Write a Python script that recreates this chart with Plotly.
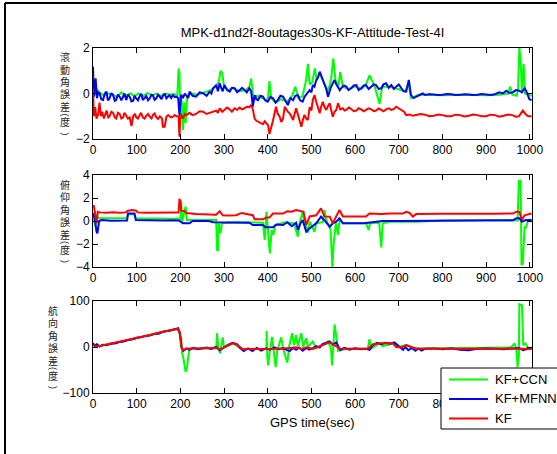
import plotly.graph_objects as go

# ---- roll error (deg): (time s, value) ----
roll_ccn = [(0,0.3),(3,-0.1),(8,0.2),(15,0.05),(25,-0.1),(35,0.0),(45,-0.05),(55,-0.15),(65,0.05),(75,-0.1),
            (85,0.0),(95,-0.1),(105,0.0),(115,-0.1),(125,0.02),(135,-0.08),(145,0.0),(155,-0.1),(165,0.0),(175,-0.05),
            (185,-0.02),(193,-0.1),(196,1.1),(198,0.9),(200,-1.0),(203,-0.3),(206,-1.6),(209,-0.4),(212,-1.3),(216,-0.1),
            (225,0.0),(240,-0.05),(255,0.05),(270,0.15),(280,0.3),(288,0.5),(292,1.0),(296,0.9),(300,0.3),(310,0.15),
            (320,0.25),(335,0.1),(350,0.15),(358,0.3),(362,0.65),(365,0.2),(368,-0.3),(375,-0.1),(390,-0.2),(400,-0.3),
            (404,0.55),(408,-0.2),(418,-0.4),(430,-0.25),(445,-0.35),(456,-0.1),(463,0.3),(470,-0.2),(480,-0.1),(488,0.6),
            (492,1.3),(496,0.4),(502,0.5),(508,1.1),(512,0.6),(519,0.9),(528,0.5),(538,0.1),(545,0.6),(550,1.55),
            (555,0.6),(562,0.3),(566,0.95),(572,0.3),(585,0.2),(600,0.3),(615,0.2),(625,0.4),(633,0.8),(645,0.3),
            (656,-0.45),(662,0.3),(680,0.3),(700,0.2),(715,0.1),(722,0.45),(728,-0.2),(735,-0.15),(745,-0.05),(770,-0.05),
            (800,-0.08),(850,-0.05),(900,-0.08),(930,-0.05),(950,0.0),(955,0.3),(960,-0.05),(970,-0.1),(973,0.2),(976,2.0),
            (979,1.5),(982,0.1),(986,1.3),(989,0.0),(995,-0.05),(1004,-0.1)]
roll_mfnn = [(0,1.18),(2,-0.14),(6,0.67),(9,-0.21),(12,0.05),(15,0.01),(19,-0.25),(23,-0.29),(27,0.0),(31,0.08),
             (34,-0.3),(38,-0.21),(42,0.02),(46,-0.07),(50,-0.32),(53,-0.29),(57,-0.05),(61,-0.14),(65,-0.3),(69,-0.14),
             (72,0.0),(76,-0.29),(80,-0.05),(84,-0.14),(88,-0.35),(92,-0.32),(95,-0.1),(99,-0.21),(103,-0.3),(107,-0.11),
             (111,-0.02),(114,-0.29),(118,-0.18),(122,-0.11),(126,-0.3),(130,-0.21),(134,-0.05),(137,-0.07),(141,-0.28),(145,-0.21),
             (149,-0.05),(153,-0.14),(157,-0.25),(160,-0.10),(164,0.0),(168,-0.21),(172,-0.12),(175,-0.07),(179,-0.2),(183,-0.07),
             (187,-0.15),(191,-0.14),(195,-0.2),(198,-0.95),(202,-0.05),(206,-0.20),(210,0.0),(214,-0.10),(218,-0.2),(221,0.08),
             (228,-0.1),(236,-0.14),(244,0.05),(252,0.01),(260,-0.1),(267,0.08),(271,0.0),(275,0.23),(282,0.37),(286,0.1),
             (290,0.45),(294,0.23),(297,0.1),(301,0.37),(307,0.15),(313,0.08),(318,0.25),(324,0.23),(330,0.05),(336,0.15),
             (341,0.25),(347,0.15),(352,0.05),(358,0.23),(362,0.1),(366,-0.58),(370,-0.07),(374,-0.25),(378,-0.29),(383,-0.1),
             (389,-0.14),(394,-0.3),(400,-0.36),(406,-0.15),(412,-0.21),(418,-0.4),(423,-0.29),(429,-0.1),(435,-0.14),(440,-0.3),
             (446,-0.51),(452,-0.2),(458,-0.29),(463,-0.1),(469,-0.07),(474,-0.3),(480,-0.36),(484,-0.15),(488,-0.07),(492,0.05),
             (496,0.15),(500,0.05),(503,0.37),(507,0.3),(511,0.59),(515,0.7),(519,0.96),(522,0.81),(526,0.6),(530,0.45),
             (534,0.2),(538,-0.14),(541,0.1),(545,0.30),(549,0.45),(553,0.59),(557,0.4),(561,0.30),(565,0.15),(568,0.23),
             (574,0.35),(580,0.30),(585,0.15),(591,0.23),(597,0.35),(603,0.37),(608,0.15),(614,0.23),(620,0.35),(625,0.37),
             (631,0.2),(637,0.30),(643,0.4),(648,0.37),(654,0.2),(660,0.23),(665,0.4),(671,0.45),(677,0.25),(683,0.37),
             (689,0.2),(694,0.30),(700,0.4),(706,0.23),(711,0.1),(717,0.08),(723,0.60),(728,-0.07),(734,-0.2),(740,-0.14),
             (748,-0.05),(755,0.0),(760,-0.06),(770,-0.03),(780,-0.04),(790,-0.07),(800,-0.05),(810,-0.02),(820,-0.03),(830,-0.07),
             (840,-0.06),(850,-0.03),(860,-0.04),(870,-0.07),(880,-0.05),(890,-0.02),(900,-0.04),(910,-0.06),(920,-0.03),(930,0.05),
             (938,0.0),(946,0.12),(953,0.02),(961,0.05),(968,0.15),(976,0.12),(982,0.05),(988,0.23),(992,0.1),(995,-0.1),
             (999,-0.25),(1004,-0.29)]
roll_kf = [(0,0.2),(2,-1.0),(5,-0.6),(8,-1.1),(12,-0.9),(15,-0.4),(18,-1.0),(21,-0.8),(25,-1.1),(28,-0.95),
           (31,-0.75),(35,-1.05),(38,-1.0),(42,-0.8),(46,-0.85),(50,-1.05),(53,-1.1),(57,-0.85),(61,-0.9),(65,-1.1),
           (69,-1.05),(72,-0.85),(76,-0.95),(80,-1.1),(84,-1.05),(88,-1.43),(92,-1.0),(96,-0.9),(99,-1.05),(103,-1.1),
           (107,-0.95),(110,-0.85),(114,-1.05),(118,-1.1),(122,-0.98),(126,-0.9),(130,-1.02),(134,-1.1),(137,-0.95),(141,-0.88),
           (145,-1.05),(149,-1.12),(153,-1.0),(158,-1.1),(160,-1.46),(164,-1.46),(168,-1.02),(172,-0.95),(175,-1.0),(179,-1.05),
           (183,-1.02),(187,-0.95),(191,-1.0),(196,-1.0),(198,-1.9),(200,-1.0),(202,-0.95),(206,-1.1),(210,-0.9),(214,-0.95),
           (221,-0.85),(228,-0.95),(236,-0.9),(244,-0.78),(252,-0.8),(260,-0.9),(267,-0.85),(275,-0.8),(282,-0.75),(286,-0.85),
           (290,-0.65),(296,-0.8),(301,-0.72),(307,-0.62),(313,-0.7),(318,-0.8),(324,-0.65),(330,-0.72),(336,-0.62),(341,-0.7),
           (347,-0.65),(352,-0.58),(358,-0.6),(362,-0.5),(366,-0.7),(370,-1.1),(374,-1.2),(378,-1.25),(383,-1.3),(389,-1.35),
           (393,-1.22),(397,-1.3),(401,-1.4),(404,-1.78),(408,-1.5),(412,-1.2),(419,-0.58),(423,-0.9),(427,-1.0),(431,-1.25),
           (435,-1.1),(439,-0.58),(446,-0.8),(450,-0.87),(454,-1.0),(458,-1.17),(465,-0.65),(469,-0.9),(473,-1.1),(477,-1.46),
           (480,-1.2),(484,-0.94),(488,-1.1),(492,-1.16),(496,-0.6),(500,-0.75),(503,-0.3),(507,-0.07),(511,-0.36),(515,-0.6),
           (519,-0.87),(522,-0.6),(526,-0.36),(530,-0.6),(534,-0.72),(538,-0.55),(542,-0.43),(545,-0.7),(549,-1.02),(553,-0.8),
           (557,-0.72),(561,-0.43),(566,-0.7),(572,-0.65),(576,-0.75),(580,-0.72),(586,-0.62),(591,-0.68),(597,-0.78),(603,-0.75),
           (608,-0.65),(614,-0.7),(620,-0.78),(625,-0.72),(631,-0.65),(637,-0.7),(643,-0.78),(648,-0.75),(654,-0.66),(660,-0.72),
           (665,-0.78),(671,-0.7),(677,-0.65),(683,-0.72),(689,-0.68),(694,-0.58),(700,-0.65),(706,-0.7),(712,-0.8),(717,-0.95),
           (725,-0.92),(732,-0.98),(740,-0.95),(750,-0.9),(760,-0.93),(770,-1.0),(780,-0.98),(790,-0.92),(800,-0.95),(810,-1.0),
           (820,-1.0),(830,-0.93),(840,-0.95),(850,-1.01),(860,-0.98),(870,-0.92),(880,-0.95),(890,-1.0),(900,-1.0),(910,-0.93),
           (920,-0.95),(930,-1.02),(940,-0.98),(950,-0.92),(960,-0.95),(968,-1.02),(975,-1.0),(984,-0.75),(990,-0.9),(996,-1.0),
           (1004,-1.0)]

# ---- pitch error (deg) ----
pitch_ccn = [(0,0.67),(5,-0.49),(8,0.38),(15,0.23),(40,0.25),(78,0.23),(80,0.58),(95,0.58),(98,0.23),(140,0.22),
             (196,0.2),(200,0.1),(202,1.7),(204,-0.06),(212,1.25),(215,0.09),(240,0.1),(282,0.09),(284,-2.52),(286,-2.6),
             (288,-0.2),(292,-1.07),(295,-0.2),(330,-0.1),(389,-0.15),(393,-1.65),(397,0.81),(400,-0.49),(405,-2.81),(409,-0.78),
             (413,-1.2),(417,-0.35),(440,-0.1),(460,-0.2),(469,-1.36),(473,-0.2),(480,0.81),(484,-0.06),(492,-1.01),(496,-0.06),
             (507,-0.93),(511,-0.2),(526,-0.1),(530,0.96),(534,0.09),(544,-0.78),(548,-4.1),(551,-1.94),(556,-0.2),(561,-1.2),
             (565,0.23),(572,-0.2),(625,-0.2),(631,-0.8),(634,-0.2),(655,-0.15),(660,-2.3),(663,-0.2),(680,-0.06),(740,-0.06),
             (800,0.05),(900,0.06),(972,0.05),(975,3.5),(979,3.5),(981,-3.83),(984,-3.7),(988,-0.49),(991,-0.64),(995,-0.06),
             (1004,0.06)]
pitch_mfnn = [(0,0.67),(4,0.25),(8,-0.93),(10,-1.07),(14,0.0),(20,0.08),(40,0.03),(60,0.06),(78,0.05),(80,0.65),
              (95,0.65),(98,0.08),(120,0.05),(140,0.08),(160,0.04),(180,0.07),(196,0.05),(206,-0.2),(221,-0.2),(228,0.0),
              (265,0.0),(275,-0.1),(297,-0.1),(310,-0.15),(358,-0.15),(366,-0.35),(389,-0.35),(395,-0.55),(412,-0.55),(420,-0.3),
              (435,-0.35),(445,-0.1),(455,-0.45),(465,-0.15),(469,-0.78),(475,-0.2),(480,0.08),(488,-0.93),(496,-0.64),(511,-0.2),
              (522,0.38),(530,0.05),(542,-0.5),(549,-0.2),(557,-0.06),(564,0.23),(572,-0.2),(620,-0.2),(633,-0.15),(663,0.0),
              (700,0.0),(740,0.0),(780,0.05),(850,0.04),(920,0.06),(961,0.06),(969,0.23),(976,0.23),(982,-0.06),(991,0.08),
              (1004,0.08)]
pitch_kf = [(0,1.25),(2,1.35),(5,0.6),(8,-0.2),(11,0.8),(15,0.75),(30,0.72),(45,0.76),(60,0.72),(75,0.75),
            (80,0.9),(90,0.95),(99,0.9),(102,0.75),(120,0.72),(140,0.75),(160,0.72),(180,0.75),(196,0.75),(198,1.85),
            (200,1.8),(202,0.9),(210,0.85),(214,0.7),(236,0.6),(260,0.55),(282,0.55),(290,0.85),(297,0.5),(310,0.48),
            (328,0.5),(340,0.7),(350,0.6),(366,0.5),(370,0.15),(389,0.15),(397,0.3),(404,0.3),(412,0.65),(435,0.65),
            (445,0.85),(455,0.8),(465,0.95),(475,0.85),(482,0.8),(488,-0.35),(496,0.4),(511,0.5),(522,1.1),(530,0.4),
            (542,0.38),(549,-0.2),(557,0.4),(564,0.95),(572,0.4),(600,0.4),(625,0.4),(633,0.65),(660,0.6),(680,0.65),
            (709,0.65),(717,0.8),(725,0.7),(732,0.38),(740,0.6),(800,0.62),(860,0.6),(920,0.62),(961,0.65),(969,0.8),
            (976,0.8),(982,0.1),(988,0.5),(1004,0.65)]

# ---- heading error (deg) ----
head_ccn = [(0,8),(5,2),(10,6),(15,2),(53,9),(92,18),(130,26),(168,35),(194,39),(198,30),
            (202,19),(204,-14),(207,-25),(212,-54),(215,-46),(220,-7),(226,-3),(282,-3),(284,30),(287,-1),
            (291,-14),(297,21),(300,-1),(320,8),(343,-5),(397,-3),(397.5,35),(399,-21),(401,-40),(404,-14),
            (410,22),(414,-10),(418,-44),(422,-7),(431,21),(435,-3),(445,-34),(449,1),(456,30),(460,4),
            (465,26),(469,2),(477,30),(481,1),(488,19),(492,0),(503,12),(511,-3),(538,12),(545,-3),
            (547,-40),(550,-3),(553,49),(556,30),(559,-3),(561,-8),(580,-4),(629,-4),(633,17),(637,-3),
            (656,8),(663,2),(690,8),(700,0),(717,4),(740,-3),(957,-1),(965,8),(969,-3),(972,-44),
            (975,-20),(976,93),(982,91),(985,4),(990,8),(995,-1),(1004,-2)]
head_mfnn = [(0,8),(4,2),(8,6),(15,1),(23,5),(31,4),(40,7),(53,8),(61,11),(70,12),
             (80,15),(92,17),(100,20),(110,21),(120,24),(130,25),(140,28),(150,29),(160,33),(168,34),
             (178,36),(185,38),(191,39),(195,41),(199,30),(203,-2),(207,-8),(214,-3),(221,-6),(230,-2),
             (240,-5),(250,-3),(260,-1),(270,-4),(282,0),(290,-7),(300,0),(310,5),(320,9),(330,6),
             (336,-2),(345,-9),(355,-3),(365,-9),(375,-2),(385,-8),(397,-3),(405,-6),(415,-1),(425,-5),
             (435,-3),(450,-9),(458,-2),(465,-6),(472,-1),(480,-8),(488,-2),(495,-6),(503,-3),(511,2),
             (519,-1),(526,7),(534,9),(542,12),(549,5),(557,10),(566,-7),(575,-2),(587,-6),(600,-3),
             (612,-5),(625,-4),(633,-6),(641,4),(650,9),(660,6),(670,9),(680,7),(690,10),(700,3),
             (710,-6),(715,0),(722,-7),(730,-2),(738,-8),(745,-3),(752,-8),(760,-4),(780,-3),(800,-5),
             (820,-3),(840,-6),(860,-7),(880,-4),(900,-3),(920,-4),(940,-5),(960,-3),(975,-2),(985,-7),
             (995,-4),(1004,-4)]
head_kf = [(0,4.3),(8,1),(15,2),(30,5),(53,9.4),(70,13),(92,18),(110,22),(130,26),(150,31),
           (168,35),(185,38),(194,39),(198,34),(202,1),(206,-6.5),(214,-4.3),(221,-3),(240,-3),(267,-3),
           (282,-1.5),(290,-5),(305,2),(320,8),(328,6),(336,0),(343,-5),(358,-4.3),(380,-4.3),(397,-3.6),
           (420,-3.6),(450,-2),(465,-0.5),(477,-4),(488,-0.5),(503,-4),(519,2),(534,8),(542,10),(553,4),
           (564,-3),(587,-3.6),(625,-3.6),(629,-3.6),(641,6),(656,8),(686,8),(694,0),(706,-1),(717,4.3),
           (728,0),(740,-3.6),(800,-3.6),(900,-3.6),(1004,-3.6)]

series_names = ["KF+CCN", "KF+MFNN", "KF"]
series_colors = ["#00FF00", "#0000FF", "#FF0000"]
panels = [
    {"data": [roll_ccn, roll_mfnn, roll_kf], "ylabel": "滾動角誤差(度)", "range": [-2, 2], "dtick": 2},
    {"data": [pitch_ccn, pitch_mfnn, pitch_kf], "ylabel": "俯仰角誤差(度)", "range": [-4, 4], "dtick": 2},
    {"data": [head_ccn, head_mfnn, head_kf], "ylabel": "航向角誤差(度)", "range": [-100, 100], "dtick": 100},
]
x_ticks = list(range(0, 1001, 100))

W, H = 557, 454
ML, MR, MT, MB = 93, 25, 48, 61
plot_h = H - MT - MB
plot_w = W - ML - MR
# vertical pixel extents (top, bottom) of the three axes
axis_px = [(48, 139), (175, 267), (301, 393)]
# y-label column centre, left of each panel's widest tick label
label_x = [65, 65, 53]

# legend box geometry (pixels) and the x ticks it hides on the lowest panel
legend_left, legend_top, legend_bottom = 441, 368, 429
legend_rows = [379.5, 399, 418.5]
hidden_under_legend = [900, 1000]

def py(p):
    return (H - MB - p) / plot_h

def px(p):
    return (p - ML) / plot_w

FONT = "Liberation Sans, Arial, Helvetica, sans-serif"
LABEL_FONT = "Liberation Sans, Noto Sans CJK TC, Noto Sans CJK SC, sans-serif"

fig = go.Figure()
for k, panel in enumerate(panels, start=1):
    for j, pairs in enumerate(panel["data"]):
        t, v = zip(*pairs)
        fig.add_trace(go.Scatter(
            x=list(t), y=list(v), mode="lines",
            line=dict(color=series_colors[j], width=2),
            name=series_names[j], showlegend=False,
            xaxis="x" if k == 1 else f"x{k}", yaxis="y" if k == 1 else f"y{k}",
        ))

axis_common = dict(showline=True, linecolor="black", linewidth=1, mirror="ticks",
                   ticks="inside", ticklen=5, tickwidth=1, tickcolor="black",
                   showgrid=False, zeroline=False,
                   tickfont=dict(family=FONT, size=12, color="black"))

layout = dict(width=W, height=H, margin=dict(l=ML, r=MR, t=MT, b=MB),
              paper_bgcolor="white", plot_bgcolor="white", showlegend=False)
for k, panel in enumerate(panels, start=1):
    top, bot = axis_px[k - 1]
    xs = "xaxis" if k == 1 else f"xaxis{k}"
    ys = "yaxis" if k == 1 else f"yaxis{k}"
    xa = "x" if k == 1 else f"x{k}"
    ya = "y" if k == 1 else f"y{k}"
    if k == 3:
        tick_text = ["" if v in hidden_under_legend else str(v) for v in x_ticks]
    else:
        tick_text = [str(v) for v in x_ticks]
    layout[xs] = dict(axis_common, domain=[0, 1], anchor=ya, range=[0, 1005],
                      tickvals=x_ticks, ticktext=tick_text)
    layout[ys] = dict(axis_common, domain=[py(bot), py(top)], anchor=xa,
                      range=panel["range"], dtick=panel["dtick"], tick0=0)
fig.update_layout(**layout)

fig.update_layout(
    title=dict(text="MPK-d1nd2f-8outages30s-KF-Attitude-Test-4I",
               font=dict(family=FONT, size=13, color="black"),
               x=px(312.5), xanchor="center", xref="paper",
               y=1 - 32 / H, yanchor="middle", yref="container"),
)

annotations = [dict(text="GPS time(sec)", xref="paper", yref="paper",
                    x=px(312.5), y=py(422), xanchor="center", yanchor="middle",
                    showarrow=False, font=dict(family=FONT, size=13, color="black"))]

# stacked vertical y-axis labels, one glyph per row; brackets are turned sideways
char_offsets = [-36.5, -24, -11.5, 1, 13.5, 21, 28.5, 40]
for k, panel in enumerate(panels):
    top, bot = axis_px[k]
    cy = (top + bot) / 2
    for ch, off in zip(panel["ylabel"], char_offsets):
        is_bracket = ch in "()"
        annotations.append(dict(text=ch, xref="paper", yref="paper",
                                x=px(label_x[k]), y=py(cy + off), xanchor="center", yanchor="middle",
                                showarrow=False, textangle=90 if is_bracket else 0,
                                borderpad=0,
                                font=dict(family=FONT if is_bracket else LABEL_FONT,
                                          size=9 if is_bracket else 10, color="#222222")))

# legend box drawn over the lower panel
shapes = [dict(type="rect", xref="paper", yref="paper", layer="above",
               x0=px(legend_left), x1=px(W + 30), y0=py(legend_bottom), y1=py(legend_top),
               fillcolor="white", line=dict(color="black", width=1))]
for name, color, row in zip(series_names, series_colors, legend_rows):
    shapes.append(dict(type="line", xref="paper", yref="paper", layer="above",
                       x0=px(449), x1=px(488), y0=py(row), y1=py(row),
                       line=dict(color=color, width=2)))
    annotations.append(dict(text=name, xref="paper", yref="paper",
                            x=px(493), y=py(row), xanchor="left", yanchor="middle",
                            showarrow=False, font=dict(family=FONT, size=13, color="black")))

# outer figure frame (left and top edges)
shapes.append(dict(type="line", xref="paper", yref="paper", layer="above",
                   x0=px(5), x1=px(W + 20), y0=py(3), y1=py(3),
                   line=dict(color="black", width=2)))
shapes.append(dict(type="line", xref="paper", yref="paper", layer="above",
                   x0=px(5), x1=px(5), y0=py(3), y1=py(H + 20),
                   line=dict(color="black", width=2)))

fig.update_layout(annotations=annotations, shapes=shapes)
fig.write_html("out.html")
